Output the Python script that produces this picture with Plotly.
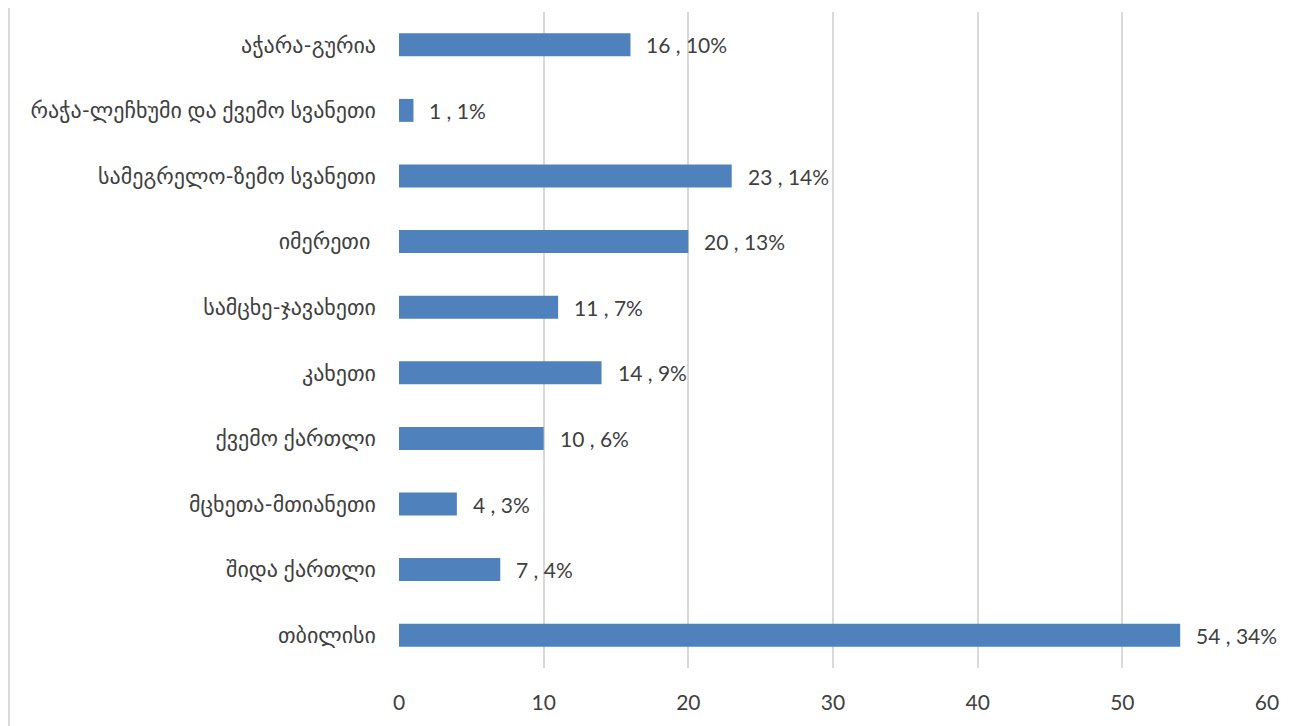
import plotly.graph_objects as go

regions = [
    "თბილისი",
    "შიდა ქართლი",
    "მცხეთა-მთიანეთი",
    "ქვემო ქართლი",
    "კახეთი",
    "სამცხე-ჯავახეთი",
    "იმერეთი\u00a0",
    "სამეგრელო-ზემო სვანეთი",
    "რაჭა-ლეჩხუმი და ქვემო სვანეთი",
    "აჭარა-გურია",
]
counts = [54, 7, 4, 10, 14, 11, 20, 23, 1, 16]
percents = [34, 4, 3, 6, 9, 7, 13, 14, 1, 10]
x_ticks = [0, 10, 20, 30, 40, 50, 60]

FONT = "Lato, DejaVu Sans, sans-serif"
TXT = "#404040"
GRID = "#D9D9D9"

L, R, T, B = 391, 45, 4, 66
PW = 1304 - L - R

fig = go.Figure(
    go.Bar(
        x=counts,
        y=regions,
        orientation="h",
        marker=dict(color="#4F81BD", line=dict(width=0)),
        width=0.35,
        hoverinfo="skip",
    )
)

for c, r, p in zip(counts, regions, percents):
    fig.add_annotation(
        x=c, y=r, text=f"{c} , {p}%", showarrow=False,
        xanchor="left", yanchor="middle", xshift=14,
        font=dict(family=FONT, size=21, color=TXT),
    )

fig.update_layout(
    width=1304,
    height=726,
    margin=dict(l=L, r=R, t=T, b=B),
    plot_bgcolor="white",
    paper_bgcolor="white",
    showlegend=False,
    font=dict(family=FONT, size=20, color=TXT),
    shapes=[
        dict(type="line", xref="paper", yref="paper",
             x0=(1 - L) / PW, x1=(1 - L) / PW, y0=-0.2, y1=1.1,
             line=dict(color=GRID, width=2)),
    ],
)
fig.update_xaxes(
    range=[0, 60],
    tickvals=x_ticks,
    showgrid=True,
    gridcolor=GRID,
    gridwidth=2,
    zeroline=False,
    showline=False,
    ticks="",
    ticklabelstandoff=20,
    tickfont=dict(family=FONT, size=21, color=TXT),
)
fig.update_yaxes(
    type="category",
    showgrid=False,
    zeroline=False,
    showline=False,
    ticks="",
    ticklabelstandoff=22,
    tickfont=dict(family=FONT, size=22, color=TXT),
)

fig.write_html("out.html")
